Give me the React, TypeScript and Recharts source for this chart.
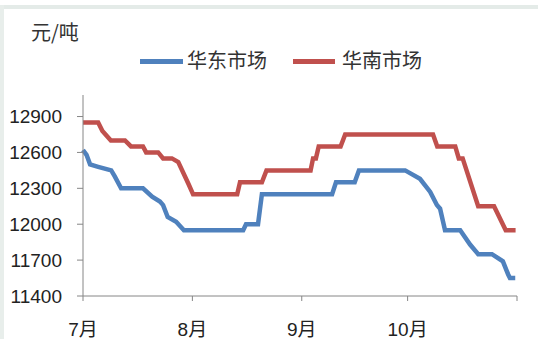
import { LineChart, Line, XAxis, YAxis, Legend } from "recharts";

// day index from 1 July (0) to 31 Oct (123)
const monthTicks = [0, 31, 62, 92, 123];
const monthLabels = ["7月", "8月", "9月", "10月", ""];
const priceTicks = [11400, 11700, 12000, 12300, 12600, 12900];

const eastDays = [0, 1, 2, 4.3, 8, 9, 10.8, 17, 19.6, 21.8, 22.7, 24, 26.4, 28.6, 45.4, 46.2, 49.6, 50.7, 70.6, 71.7, 77, 78.2, 91.3, 95.5, 98.4, 100.3, 101.2, 102.6, 106.9, 109.7, 112, 115.9, 119, 120.5, 121, 122.5];
const eastPrices = [12620, 12580, 12500, 12480, 12450, 12400, 12300, 12300, 12230, 12190, 12160, 12060, 12020, 11950, 11950, 12000, 12000, 12250, 12250, 12350, 12350, 12450, 12450, 12380, 12270, 12160, 12130, 11950, 11950, 11830, 11750, 11750, 11690, 11580, 11550, 11550];

const southDays = [0, 4.3, 5.5, 7.9, 11.9, 13.6, 17, 17.9, 21.3, 22.7, 25.2, 27, 30, 31.2, 43.7, 44.5, 50.7, 52, 64.5, 65.2, 66, 66.8, 73, 74.3, 99.2, 100.4, 105.5, 106.5, 107.6, 112, 116.5, 119.8, 122.6];
const southPrices = [12850, 12850, 12780, 12700, 12700, 12650, 12650, 12600, 12600, 12550, 12550, 12520, 12330, 12250, 12250, 12350, 12350, 12450, 12450, 12550, 12550, 12650, 12650, 12750, 12750, 12650, 12650, 12550, 12550, 12150, 12150, 11950, 11950];

const east = eastDays.map((d, i) => ({ day: d, price: eastPrices[i] }));
const south = southDays.map((d, i) => ({ day: d, price: southPrices[i] }));

const colors = { east: "#4F81BD", south: "#C0504D", axis: "#868686", text: "#222" };
const cjk = "'Noto Sans CJK SC', sans-serif";

const LegendBox = () => (
  <div style={{ position: "relative", height: 30, fontFamily: cjk, fontSize: 20, color: "#333" }}>
    <div style={{ position: "absolute", left: 140, top: 12, width: 43, height: 5, background: colors.east }} />
    <span style={{ position: "absolute", left: 187, top: -1, lineHeight: "28px" }}>华东市场</span>
    <div style={{ position: "absolute", left: 293, top: 12, width: 42, height: 5, background: colors.south }} />
    <span style={{ position: "absolute", left: 342, top: -1, lineHeight: "28px" }}>华南市场</span>
  </div>
);

export default function App() {
  return (
    <div style={{ position: "absolute", left: 0, top: 0, width: 538, height: 339, background: "#fff", overflow: "hidden" }}>
      <div style={{ position: "absolute", left: 0, top: 5, width: 538, height: 4, background: "#e4ebe8" }} />
      <div style={{ position: "absolute", left: 0, top: 5, width: 4, height: 334, background: "#e8eeeb" }} />
      <div style={{ position: "absolute", left: 31, top: 17, fontFamily: cjk, fontSize: 20, color: "#333" }}>元/吨</div>
      <LineChart width={538} height={339} margin={{ top: 95, right: 21, bottom: 0, left: 0 }}>
        <XAxis
          dataKey="day"
          type="number"
          domain={[0, 123]}
          ticks={monthTicks}
          tickFormatter={(v: number) => monthLabels[monthTicks.indexOf(v)] ?? ""}
          interval={0}
          height={43}
          stroke={colors.axis}
          tickSize={5}
          tickMargin={22}
          tick={{ fill: colors.text, fontSize: 19, fontFamily: "'Liberation Sans', " + cjk }}
          allowDuplicatedCategory={false}
        />
        <YAxis
          type="number"
          domain={[11400, 13080]}
          ticks={priceTicks}
          interval={0}
          width={83}
          stroke={colors.axis}
          tickSize={6}
          tickMargin={15}
          tick={{ fill: colors.text, fontSize: 19, fontFamily: "'Liberation Sans', sans-serif" }}
        />
        <Legend
          verticalAlign="middle"
          layout="horizontal"
          content={<LegendBox />}
          wrapperStyle={{ top: 47, left: 0, width: 538 }}
        />
        <Line
          data={east}
          dataKey="price"
          name="华东市场"
          type="linear"
          stroke={colors.east}
          strokeWidth={4.5}
          dot={false}
          isAnimationActive={false}
        />
        <Line
          data={south}
          dataKey="price"
          name="华南市场"
          type="linear"
          stroke={colors.south}
          strokeWidth={4.5}
          dot={false}
          isAnimationActive={false}
        />
      </LineChart>
    </div>
  );
}
